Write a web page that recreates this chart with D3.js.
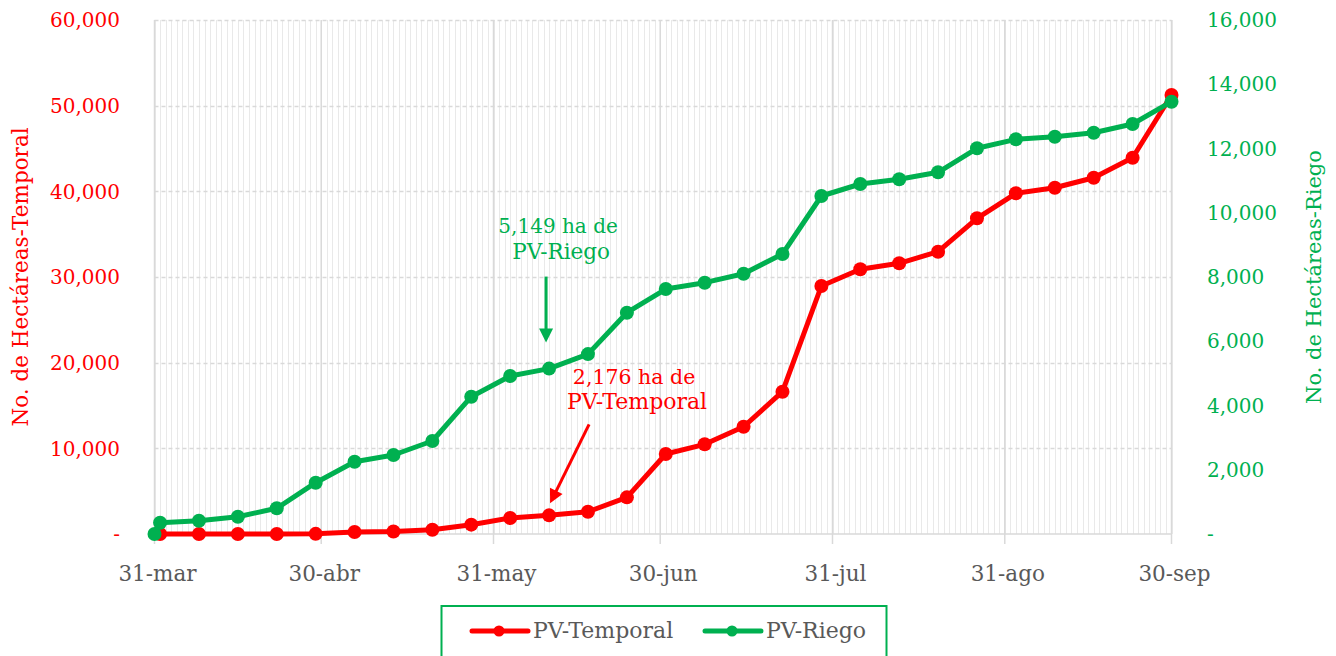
<!DOCTYPE html>
<html>
<head>
<meta charset="utf-8">
<script src="https://cdn.jsdelivr.net/npm/d3@7"></script>
<style>
  body { margin: 0; background: #fff; }
  svg text { font-family: "DejaVu Serif", serif; }
</style>
</head>
<body>
<div id="chart"></div>
<script>
// weekly cumulative hectares
const fechasTemporal = ["2023-04-01","2023-04-08","2023-04-15","2023-04-22","2023-04-29",
  "2023-05-06","2023-05-13","2023-05-20","2023-05-27","2023-06-03","2023-06-10","2023-06-17",
  "2023-06-24","2023-07-01","2023-07-08","2023-07-15","2023-07-22","2023-07-29","2023-08-05",
  "2023-08-12","2023-08-19","2023-08-26","2023-09-02","2023-09-09","2023-09-16","2023-09-23","2023-09-30"];
const pvTemporal = [0, 0, 0, 0, 20, 230, 300, 500, 1090, 1870, 2176, 2600, 4280, 9340, 10470,
  12520, 16610, 28950, 30900, 31600, 32950, 36850, 39770, 40420, 41590, 43920, 51240];

const fechasRiego = ["2023-03-31","2023-04-01","2023-04-08","2023-04-15","2023-04-22","2023-04-29",
  "2023-05-06","2023-05-13","2023-05-20","2023-05-27","2023-06-03","2023-06-10","2023-06-17",
  "2023-06-24","2023-07-01","2023-07-08","2023-07-15","2023-07-22","2023-07-29","2023-08-05",
  "2023-08-12","2023-08-19","2023-08-26","2023-09-02","2023-09-09","2023-09-16","2023-09-23","2023-09-30"];
const pvRiego = [0, 352, 414, 539, 800, 1597, 2250, 2459, 2895, 4274, 4918, 5149, 5600, 6889,
  7626, 7823, 8100, 8716, 10521, 10895, 11041, 11259, 12006, 12286, 12367, 12492, 12763, 13457];

const tickFechas = ["2023-03-31","2023-04-30","2023-05-31","2023-06-30","2023-07-31","2023-08-31","2023-09-30"];
const tickEtiquetas = ["31-mar","30-abr","31-may","30-jun","31-jul","31-ago","30-sep"];
const ticksIzq = [0, 10000, 20000, 30000, 40000, 50000, 60000];
const ticksDer = [0, 2000, 4000, 6000, 8000, 10000, 12000, 14000, 16000];

const width = 1336, height = 656;
const marginTop = 20, marginBottom = 122, marginLeft = 154.5, marginRight = 164.5;
const ROJO = "#FF0000", VERDE = "#00B050", GRIS = "#595959";

const parse = d3.timeParse("%Y-%m-%d");
const temporal = fechasTemporal.map((d, i) => ({date: parse(d), value: pvTemporal[i]}));
const riego = fechasRiego.map((d, i) => ({date: parse(d), value: pvRiego[i]}));
const ticks = tickFechas.map(parse);

const x = d3.scaleTime([ticks[0], ticks[ticks.length - 1]], [marginLeft, width - marginRight]);
const yL = d3.scaleLinear([0, 60000], [height - marginBottom, marginTop]);
const yR = d3.scaleLinear([0, 16000], [height - marginBottom, marginTop]);

const fmt = v => v === 0 ? "-" : d3.format(",")(v);

const svg = d3.select("#chart").append("svg")
  .attr("width", width)
  .attr("height", height)
  .attr("viewBox", [0, 0, width, height]);

// daily minor gridlines
svg.append("g")
  .selectAll("line")
  .data(d3.timeDay.range(ticks[0], d3.timeDay.offset(ticks[ticks.length - 1], 1)))
  .join("line")
  .attr("x1", d => Math.round(x(d)) + 0.5).attr("x2", d => Math.round(x(d)) + 0.5)
  .attr("y1", yL(60000)).attr("y2", yL(0))
  .attr("stroke", "#e9e9e9").attr("stroke-width", 1);

// horizontal dashed gridlines
svg.append("g")
  .selectAll("line")
  .data(ticksIzq.slice(1))
  .join("line")
  .attr("x1", marginLeft).attr("x2", width - marginRight)
  .attr("y1", d => Math.round(yL(d)) + 0.5).attr("y2", d => Math.round(yL(d)) + 0.5)
  .attr("stroke", "#d9d9d9").attr("stroke-width", 1.5)
  .attr("stroke-dasharray", "4,3");

// monthly major gridlines + ticks
svg.append("g")
  .selectAll("line")
  .data(ticks)
  .join("line")
  .attr("x1", d => x(d)).attr("x2", d => x(d))
  .attr("y1", yL(60000)).attr("y2", yL(0) + 10)
  .attr("stroke", "#d9d9d9").attr("stroke-width", 1.5);

// x axis line
svg.append("line")
  .attr("x1", marginLeft).attr("x2", width - marginRight)
  .attr("y1", yL(0)).attr("y2", yL(0))
  .attr("stroke", "#d9d9d9").attr("stroke-width", 1.5);

// x labels
svg.append("g")
  .selectAll("text")
  .data(ticks)
  .join("text")
  .attr("x", d => x(d) + 3)
  .attr("y", yL(0) + 47)
  .attr("text-anchor", "middle")
  .attr("fill", GRIS)
  .attr("font-size", 21.5)
  .text((d, i) => tickEtiquetas[i]);

// left axis labels
svg.append("g")
  .selectAll("text")
  .data(ticksIzq)
  .join("text")
  .attr("x", 120)
  .attr("y", d => yL(d))
  .attr("dy", "0.36em")
  .attr("text-anchor", "end")
  .attr("fill", ROJO)
  .attr("font-size", 20)
  .text(fmt);

// right axis labels
svg.append("g")
  .selectAll("text")
  .data(ticksDer)
  .join("text")
  .attr("x", 1207)
  .attr("y", d => yR(d))
  .attr("dy", "0.36em")
  .attr("text-anchor", "start")
  .attr("fill", VERDE)
  .attr("font-size", 20)
  .text(d => d === 0 ? " -" : fmt(d));

// axis titles
svg.append("text")
  .attr("transform", `translate(28,${(yL(0) + yL(60000)) / 2}) rotate(-90)`)
  .attr("text-anchor", "middle")
  .attr("fill", ROJO)
  .attr("font-size", 21.5)
  .text("No. de Hectáreas-Temporal");

svg.append("text")
  .attr("transform", `translate(1321,${(yR(0) + yR(16000)) / 2}) rotate(-90)`)
  .attr("text-anchor", "middle")
  .attr("fill", VERDE)
  .attr("font-size", 21)
  .text("No. de Hectáreas-Riego");

// lines
const lineL = d3.line().x(d => x(d.date)).y(d => yL(d.value));
const lineR = d3.line().x(d => x(d.date)).y(d => yR(d.value));

svg.append("path")
  .attr("fill", "none").attr("stroke", ROJO).attr("stroke-width", 5)
  .attr("stroke-linejoin", "round")
  .attr("d", lineL(temporal));
svg.append("g")
  .selectAll("circle")
  .data(temporal)
  .join("circle")
  .attr("cx", d => x(d.date)).attr("cy", d => yL(d.value))
  .attr("r", 7).attr("fill", ROJO);

svg.append("path")
  .attr("fill", "none").attr("stroke", VERDE).attr("stroke-width", 5)
  .attr("stroke-linejoin", "round")
  .attr("d", lineR(riego));
svg.append("g")
  .selectAll("circle")
  .data(riego)
  .join("circle")
  .attr("cx", d => x(d.date)).attr("cy", d => yR(d.value))
  .attr("r", 7).attr("fill", VERDE);

// annotations
const puntoR = riego[11], puntoT = temporal[10];
function arrow(x1, y1, x2, y2, color) {
  const a = Math.atan2(y2 - y1, x2 - x1), L = 14, W = 7;
  svg.append("line")
    .attr("x1", x1).attr("y1", y1)
    .attr("x2", x2 - Math.cos(a) * L * 0.8).attr("y2", y2 - Math.sin(a) * L * 0.8)
    .attr("stroke", color).attr("stroke-width", 3);
  const bx = x2 - Math.cos(a) * L, by = y2 - Math.sin(a) * L;
  svg.append("path")
    .attr("d", `M${x2},${y2}L${bx - Math.sin(a) * W},${by + Math.cos(a) * W}L${bx + Math.sin(a) * W},${by - Math.cos(a) * W}Z`)
    .attr("fill", color);
}
const gx = x(puntoR.date) - 3, gy = yR(puntoR.value);
arrow(gx, gy - 92, gx, gy - 26, VERDE);
svg.append("text").attr("x", gx + 12).attr("y", gy - 136)
  .attr("text-anchor", "middle").attr("fill", VERDE).attr("font-size", 20)
  .text("5,149 ha de");
svg.append("text").attr("x", gx + 15).attr("y", gy - 110)
  .attr("text-anchor", "middle").attr("fill", VERDE).attr("font-size", 21.5)
  .text("PV-Riego");

const tx = x(puntoT.date), ty = yL(puntoT.value);
arrow(tx + 40, ty - 91, tx + 1, ty - 12, ROJO);
svg.append("text").attr("x", tx + 85).attr("y", ty - 131)
  .attr("text-anchor", "middle").attr("fill", ROJO).attr("font-size", 20.5)
  .text("2,176 ha de");
svg.append("text").attr("x", tx + 88).attr("y", ty - 106)
  .attr("text-anchor", "middle").attr("fill", ROJO).attr("font-size", 22)
  .text("PV-Temporal");

// legend
const lg = svg.append("g");
lg.append("rect")
  .attr("x", 441.5).attr("y", 606).attr("width", 445).attr("height", 60)
  .attr("fill", "#fff").attr("stroke", VERDE).attr("stroke-width", 2);
const items = [
  {name: "PV-Temporal", color: ROJO, x0: 472},
  {name: "PV-Riego", color: VERDE, x0: 705}
];
items.forEach(it => {
  lg.append("line").attr("x1", it.x0).attr("x2", it.x0 + 56)
    .attr("y1", 631).attr("y2", 631)
    .attr("stroke", it.color).attr("stroke-width", 5).attr("stroke-linecap", "round");
  lg.append("circle").attr("cx", it.x0 + 27).attr("cy", 631).attr("r", 5.5).attr("fill", it.color);
  lg.append("text").attr("x", it.x0 + 61).attr("y", 638)
    .attr("fill", GRIS).attr("font-size", 22).text(it.name);
});
</script>
</body>
</html>
